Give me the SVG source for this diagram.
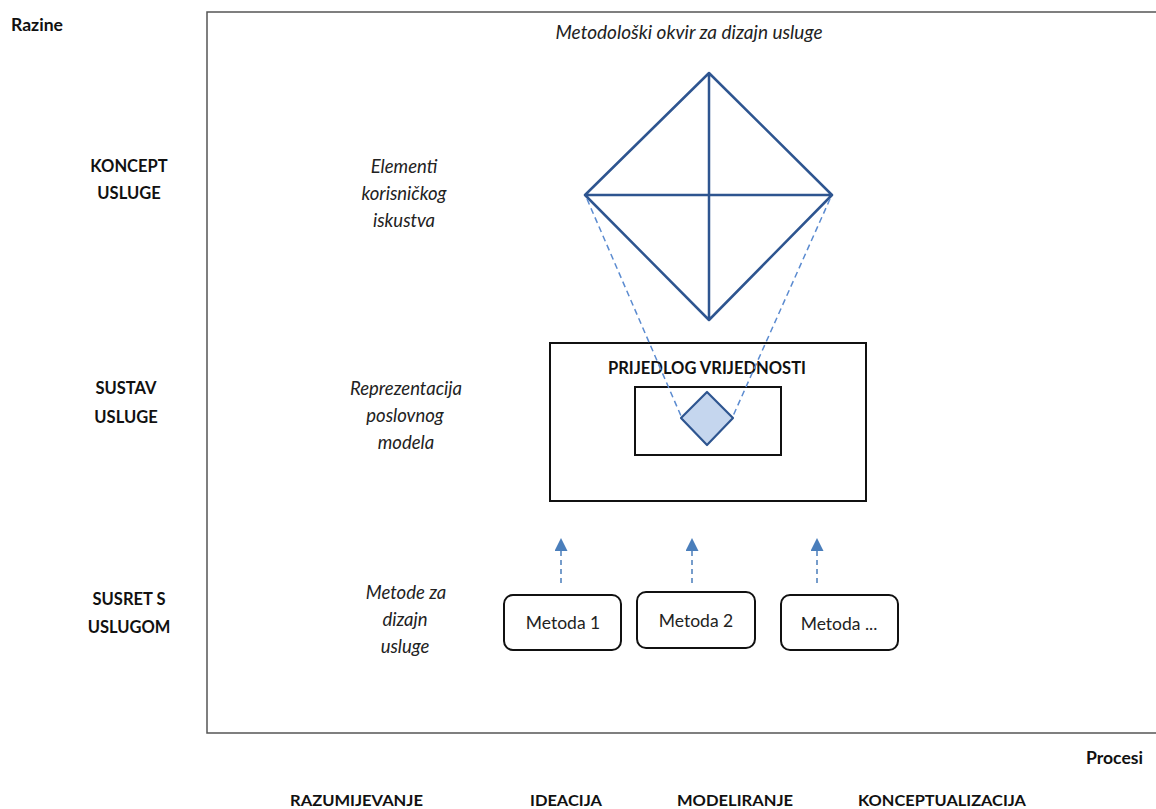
<svg xmlns="http://www.w3.org/2000/svg" width="1156" height="809" viewBox="0 0 1156 809">
<defs>
<style>
.b{font-family:Lato,"Open Sans","Liberation Sans",sans-serif;font-weight:bold;font-size:16.5px;fill:#111}
.p{font-size:15px}
.i{font-family:Lato,"Open Sans","Liberation Sans",sans-serif;font-style:italic;font-size:18.5px;fill:#222;text-anchor:middle}
.m{font-family:Lato,"Open Sans","Liberation Sans",sans-serif;font-size:17.5px;fill:#222;text-anchor:middle}
.c{text-anchor:middle}
.box{fill:#fff;stroke:#111;stroke-width:2}
.dia{fill:none;stroke:#2e5590;stroke-width:2.5;stroke-linejoin:round}
.dash{fill:none;stroke:#5b8bd0;stroke-width:1.5;stroke-dasharray:6 4}
.arr{fill:none;stroke:#4a7ebb;stroke-width:1.5;stroke-dasharray:5 4}
</style>
<marker id="ah" markerWidth="13" markerHeight="13" refX="4" refY="6.5" orient="auto" markerUnits="userSpaceOnUse"><path d="M0,0 L13,6.5 L0,13 z" fill="#4a7ebb"/></marker>
</defs>
<rect width="1156" height="809" fill="#fff"/>
<rect id="frame" x="207" y="12" width="1000" height="721" fill="none" stroke="#555" stroke-width="1.5"/>
<text class="b" x="11" y="31" textLength="52" lengthAdjust="spacingAndGlyphs">Razine</text>
<g id="levels">
<text class="b c" x="129" y="172">KONCEPT</text>
<text class="b c" x="129" y="199">USLUGE</text>
<text class="b c" x="126" y="394">SUSTAV</text>
<text class="b c" x="126" y="423">USLUGE</text>
<text class="b c" x="129" y="605">SUSRET S</text>
<text class="b c" x="129" y="633">USLUGOM</text>
</g>
<text class="i" x="689" y="39" textLength="267" lengthAdjust="spacingAndGlyphs">Metodološki okvir za dizajn usluge</text>
<g id="labels">
<text class="i" x="404" y="173">Elementi</text>
<text class="i" x="404" y="200">korisničkog</text>
<text class="i" x="404" y="227">iskustva</text>
<text class="i" x="406" y="395">Reprezentacija</text>
<text class="i" x="405" y="422">poslovnog</text>
<text class="i" x="406" y="449">modela</text>
<text class="i" x="406" y="599">Metode za</text>
<text class="i" x="405" y="626">dizajn</text>
<text class="i" x="405" y="653">usluge</text>
</g>
<g id="ux-elements">
<path class="dia" d="M709,73 L832,195 L709,320 L585,195 Z M709,73 L709,320 M585,195 L832,195"/>
</g>
<g id="value-proposition">
<rect class="box" x="550" y="343" width="316" height="158"/>
<text class="b c" x="707" y="374" font-size="16" textLength="198" lengthAdjust="spacingAndGlyphs">PRIJEDLOG VRIJEDNOSTI</text>
<rect class="box" x="635" y="387" width="146" height="68"/>
<path d="M707,392 L733,418 L707,445 L681,418 Z" fill="#c5d6ee" stroke="#2e5590" stroke-width="2.2" stroke-linejoin="round"/>
</g>
<g id="connectors">
<line class="dash" x1="587" y1="199" x2="681" y2="416"/>
<line class="dash" x1="830" y1="199" x2="733" y2="416"/>
<line class="arr" x1="561" y1="583" x2="561" y2="547" marker-end="url(#ah)"/>
<line class="arr" x1="692" y1="583" x2="692" y2="547" marker-end="url(#ah)"/>
<line class="arr" x1="817" y1="583" x2="817" y2="547" marker-end="url(#ah)"/>
</g>
<g id="m1"><rect class="box" x="504" y="595" width="117" height="55" rx="9"/><text class="m" x="563" y="629">Metoda 1</text></g>
<g id="m2"><rect class="box" x="637" y="592" width="118" height="56" rx="9"/><text class="m" x="696" y="627">Metoda 2</text></g>
<g id="m3"><rect class="box" x="781" y="595" width="117" height="55" rx="9"/><text class="m" x="839" y="630">Metoda ...</text></g>
<text class="b" x="1086" y="764" textLength="57" lengthAdjust="spacingAndGlyphs">Procesi</text>
<g id="processes">
<text class="b p" x="290" y="806" textLength="133" lengthAdjust="spacingAndGlyphs">RAZUMIJEVANJE</text>
<text class="b p" x="530" y="806" textLength="72" lengthAdjust="spacingAndGlyphs">IDEACIJA</text>
<text class="b p" x="677" y="806" textLength="116" lengthAdjust="spacingAndGlyphs">MODELIRANJE</text>
<text class="b p" x="858" y="806" textLength="168" lengthAdjust="spacingAndGlyphs">KONCEPTUALIZACIJA</text>
</g>
</svg>
